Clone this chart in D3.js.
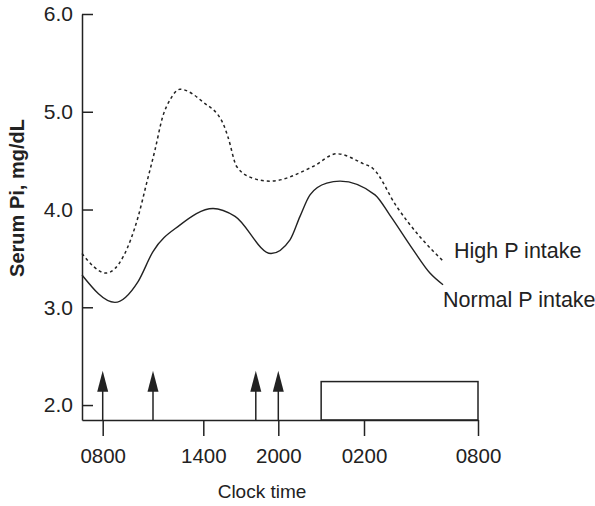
<!DOCTYPE html>
<html>
<head>
<meta charset="utf-8">
<script src="https://cdnjs.cloudflare.com/ajax/libs/d3/7.8.5/d3.min.js"></script>
<style>
  body { margin: 0; background: #fff; }
  text { font-family: "Liberation Sans", Arial, Helvetica, sans-serif; fill: #222; }
</style>
</head>
<body>
<div id="chart"></div>
<script>
// clock hours on a running scale: 8 = 0800, 32 = 0800 next day
var tickHours = [8, 14, 20, 26, 32];
var tickLabels = ['0800', '1400', '2000', '0200', '0800'];
var yTicks = [2.0, 3.0, 4.0, 5.0, 6.0];

// Normal P intake (solid)
var normalTime = [6.77, 8.73, 10.1, 11.0, 12.6, 14.78, 16.54, 19.42, 20.82, 21.52, 22.22, 23.39, 24.32, 26.58, 27.37, 28.58, 29.47, 30.16];
var normalPi   = [3.33, 3.05, 3.26, 3.57, 3.84, 4.01, 3.93, 3.55, 3.69, 3.93, 4.15, 4.27, 4.29, 4.15, 3.94, 3.59, 3.35, 3.23];

// High P intake (dotted)
var highTime = [6.77, 8.2, 9.23, 10.12, 10.62, 11.12, 11.58, 12.01, 12.61, 13.98, 15.58, 15.98, 16.67, 17.98, 19.34, 22.43, 24.09, 25.93, 26.47, 27.72, 28.95, 30.18];
var highPi   = [3.55, 3.35, 3.52, 3.93, 4.27, 4.61, 4.95, 5.12, 5.23, 5.10, 4.88, 4.74, 4.44, 4.32, 4.29, 4.44, 4.57, 4.47, 4.42, 4.03, 3.72, 3.47];

// meals (arrows) and sleep period (box)
var mealTimes = [8, 11, 18.2, 20];
var sleepStart = 23, sleepEnd = 32;

var svgWidth = 595, svgHeight = 506;

var svg = d3.select('#chart').append('svg')
    .attr('width', svgWidth)
    .attr('height', svgHeight);

// the printed time axis is not evenly spaced, so map each tick to where it sits
var x = d3.scaleLinear()
    .domain([6.77, 8, 14, 20, 26, 32])
    .range([82, 102.7, 203.3, 278.3, 364, 478]);

var y = d3.scaleLinear()
    .domain([1.847, 6.0])
    .range([420, 14]);

// Axes
var xAxis = d3.axisBottom(x)
    .tickValues(tickHours)
    .tickFormat(function(d, i) { return tickLabels[i]; })
    .tickSizeInner(16)
    .tickSizeOuter(0)
    .tickPadding(12);

var yAxis = d3.axisLeft(y)
    .tickValues(yTicks)
    .tickFormat(d3.format('.1f'))
    .tickSizeInner(-11)
    .tickSizeOuter(0)
    .tickPadding(9);

var gx = svg.append('g')
    .attr('transform', 'translate(0,' + y(1.847) + ')')
    .call(xAxis);

var gy = svg.append('g')
    .attr('transform', 'translate(' + x(6.77) + ',0)')
    .call(yAxis);

[gx, gy].forEach(function(g) {
  g.selectAll('path, line').attr('stroke', '#222').attr('stroke-width', 1.5);
  g.selectAll('text').attr('fill', '#222');
});
gx.selectAll('text').style('font-size', '20.5px');
gy.selectAll('text').style('font-size', '21px');

// Curves
var line = d3.line()
    .x(function(d) { return x(d[0]); })
    .y(function(d) { return y(d[1]); })
    .curve(d3.curveMonotoneX);

svg.append('path')
    .datum(d3.zip(normalTime, normalPi))
    .attr('d', line)
    .attr('fill', 'none')
    .attr('stroke', '#222')
    .attr('stroke-width', 1.4);

svg.append('path')
    .datum(d3.zip(highTime, highPi))
    .attr('d', line)
    .attr('fill', 'none')
    .attr('stroke', '#222')
    .attr('stroke-width', 1.5)
    .attr('stroke-dasharray', '3,3');

// Meal arrows
var arrows = svg.selectAll('.meal')
    .data(mealTimes)
    .enter().append('g')
    .attr('class', 'meal');

arrows.append('line')
    .attr('x1', function(d) { return x(d); })
    .attr('x2', function(d) { return x(d); })
    .attr('y1', y(1.847))
    .attr('y2', y(2.17))
    .attr('stroke', '#222')
    .attr('stroke-width', 1.5);

arrows.append('path')
    .attr('d', function(d) {
      var cx = x(d);
      return 'M' + (cx - 5.5) + ',' + y(2.135) + 'L' + cx + ',' + y(2.35) + 'L' + (cx + 5.5) + ',' + y(2.135) + 'Z';
    })
    .attr('fill', '#222');

// Sleep box
svg.append('rect')
    .attr('x', x(sleepStart))
    .attr('y', y(2.24))
    .attr('width', x(sleepEnd) - x(sleepStart))
    .attr('height', y(1.847) - y(2.24))
    .attr('fill', 'none')
    .attr('stroke', '#222')
    .attr('stroke-width', 1.5);

// Series labels
svg.append('text')
    .attr('x', 454)
    .attr('y', 257.5)
    .style('font-size', '21.5px')
    .text('High P intake');

svg.append('text')
    .attr('x', 443)
    .attr('y', 307)
    .style('font-size', '21.5px')
    .text('Normal P intake');

// Axis titles
svg.append('text')
    .attr('x', 262)
    .attr('y', 498)
    .attr('text-anchor', 'middle')
    .style('font-size', '19px')
    .text('Clock time');

svg.append('text')
    .attr('transform', 'translate(24,198) rotate(-90)')
    .attr('text-anchor', 'middle')
    .style('font-size', '20px')
    .style('font-weight', 'bold')
    .text('Serum Pi, mg/dL');
</script>
</body>
</html>
